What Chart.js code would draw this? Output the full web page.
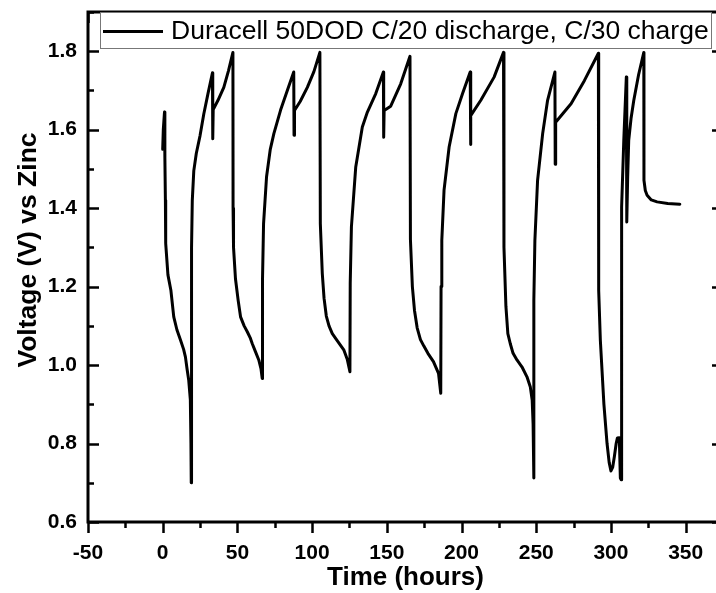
<!DOCTYPE html>
<html>
<head>
<meta charset="utf-8">
<script src="https://cdn.jsdelivr.net/npm/chart.js"></script>
<style>
  html, body { margin: 0; padding: 0; overflow: hidden; background: #fff; }
  #wrap { width: 730px; height: 593px; }
</style>
</head>
<body>
<div id="wrap"><canvas id="cycles"></canvas></div>
<script>
// Duracell 50DOD, C/20 discharge, C/30 charge
var seriesLabel = 'Duracell 50DOD C/20 discharge, C/30 charge';
var xTitle = 'Time (hours)';
var yTitle = 'Voltage (V) vs Zinc';

var timeHours = [
  0.0, 0.4, 1.2, 1.4, 1.5, 1.8, 2.0, 3.5, 5.5, 7.4, 9.5, 11.9, 14.0, 15.2, 16.3, 17.4, 18.5, 18.9, 19.1,
  19.3, 19.8, 20.8, 22.5, 25.0, 27.5, 30.2, 33.3, 33.5, 33.8, 37.0, 40.9, 44.0, 47.0,
  47.1, 47.4, 48.7, 50.5, 52.1, 54.5, 56.6, 58.5, 59.9, 62.0, 64.3, 65.8, 66.6,
  66.8, 67.5, 69.5, 72.0, 74.4, 78.9, 83.4, 87.7, 87.9, 88.2, 92.0, 96.8, 101.2, 105.2,
  105.5, 106.8, 108.0, 109.5, 111.3, 113.5, 116.9, 121.3, 123.5, 125.3,
  125.5, 126.3, 129.2, 133.6, 137.0, 142.6, 147.7, 147.9, 148.2, 152.6, 159.3, 165.5,
  165.8, 167.1, 168.5, 170.3, 172.5, 174.7, 177.5, 181.2, 184.6, 186.1,
  186.3, 186.8, 188.3, 191.7, 196.2, 200.7, 205.8, 206.0, 206.3, 212.9, 221.8, 228.1,
  228.4, 229.7, 231.0, 232.6, 234.5, 237.1, 240.5, 243.8, 246.0, 247.3, 247.9, 248.3,
  248.5, 249.1, 250.9, 254.3, 257.6, 262.5, 262.7, 263.0, 268.0, 273.3, 282.2, 291.6,
  291.8, 292.9, 295.3, 297.4, 298.8, 300.0, 301.2, 302.3, 303.5, 304.3, 305.6, 306.3,
  306.8, 306.9, 307.4, 308.6, 310.3, 310.6, 311.2, 311.9, 313.5, 315.3, 318.5, 322.0,
  322.1, 323.0, 324.2, 327.0, 330.9, 338.0, 346.1
];

var voltageV = [
  1.55, 1.60, 1.645, 1.60, 1.53, 1.42, 1.31, 1.23, 1.19, 1.123, 1.09, 1.064, 1.04, 1.021, 0.99, 0.962, 0.911, 0.80, 0.70,
  1.30, 1.42, 1.495, 1.54, 1.585, 1.64, 1.69, 1.745, 1.577, 1.651, 1.675, 1.708, 1.75, 1.797,
  1.40, 1.30, 1.22, 1.165, 1.123, 1.10, 1.085, 1.07, 1.055, 1.035, 1.013, 0.99, 0.966,
  1.22, 1.36, 1.48, 1.55, 1.59, 1.65, 1.70, 1.747, 1.586, 1.649, 1.672, 1.708, 1.748, 1.797,
  1.36, 1.234, 1.17, 1.125, 1.10, 1.08, 1.062, 1.038, 1.015, 0.983,
  1.208, 1.352, 1.505, 1.607, 1.645, 1.692, 1.747, 1.581, 1.649, 1.660, 1.717, 1.787,
  1.32, 1.20, 1.14, 1.095, 1.065, 1.049, 1.03, 1.009, 0.979, 0.928,
  1.200, 1.318, 1.446, 1.556, 1.641, 1.692, 1.747, 1.562, 1.636, 1.675, 1.734, 1.797,
  1.30, 1.15, 1.08, 1.055, 1.03, 1.013, 0.995, 0.970, 0.945, 0.91, 0.85, 0.712,
  1.166, 1.318, 1.471, 1.590, 1.675, 1.747, 1.512, 1.619, 1.642, 1.666, 1.725, 1.795,
  1.19, 1.064, 0.90, 0.80, 0.752, 0.730, 0.740, 0.767, 0.80, 0.814, 0.815, 0.712,
  0.708, 1.20, 1.403, 1.573, 1.734, 1.365, 1.48, 1.573, 1.63, 1.675, 1.74, 1.797,
  1.471, 1.445, 1.433, 1.421, 1.416, 1.412, 1.410
];

var xTicks = [-50, 0, 50, 100, 150, 200, 250, 300, 350];
var yTicks = [0.6, 0.8, 1.0, 1.2, 1.4, 1.6, 1.8];

var FONT = "'Liberation Sans', Arial, sans-serif";

// box, tick marks, y title and legend, Origin style
var framePlugin = {
  id: 'frame',
  afterDatasetsDraw: function (chart) {
    var c = chart.ctx, a = chart.chartArea;
    var xs = chart.scales.x, ys = chart.scales.y;
    c.save();
    c.strokeStyle = '#000';
    c.lineWidth = 3;
    c.beginPath();
    c.moveTo(a.left, a.top); c.lineTo(a.right, a.top);
    c.moveTo(a.left, a.top - 1.5); c.lineTo(a.left, a.bottom + 1.5);
    c.moveTo(a.left - 1.5, a.bottom); c.lineTo(a.right, a.bottom);
    c.moveTo(a.right, a.top); c.lineTo(a.right, a.bottom);
    c.stroke();
    c.lineWidth = 2.5;
    c.beginPath();
    for (var v = -50; v <= 375; v += 25) {
      var px = Math.round(xs.getPixelForValue(v)) + 0.5;
      var major = v % 50 === 0;
      c.moveTo(px, a.bottom); c.lineTo(px, a.bottom + (major ? 11 : 6));
      c.moveTo(px, a.top); c.lineTo(px, a.top + (major ? 11 : 6));
    }
    for (var k = 0; k <= 13; k++) {
      var yv = 0.6 + k * 0.1;
      var py = Math.round(ys.getPixelForValue(yv)) + 0.5;
      var maj = k % 2 === 0;
      c.moveTo(a.left, py); c.lineTo(a.left + (maj ? 11 : 6), py);
      c.moveTo(a.right, py); c.lineTo(a.right - (maj ? 11 : 6), py);
    }
    c.stroke();
    c.restore();
  },
  afterDraw: function (chart) {
    var c = chart.ctx;
    c.save();
    // y axis title (sits a little above the middle of the axis in the original)
    c.translate(28.6, 250);
    c.rotate(-Math.PI / 2);
    c.fillStyle = '#000';
    c.font = 'bold 26.5px ' + FONT;
    c.textAlign = 'center';
    c.textBaseline = 'middle';
    c.fillText(yTitle, 0, 0);
    c.restore();

    c.save();
    c.fillStyle = '#fff';
    c.fillRect(100, 12, 612, 37);
    c.strokeStyle = '#777';
    c.lineWidth = 1;
    c.strokeRect(100.5, 12.5, 611, 36);
    c.strokeStyle = '#000';
    c.lineWidth = 3;
    c.beginPath();
    c.moveTo(103, 31.5); c.lineTo(163, 31.5);
    c.stroke();
    c.fillStyle = '#000';
    c.font = '26.5px ' + FONT;
    c.textBaseline = 'alphabetic';
    c.textAlign = 'left';
    c.fillText(seriesLabel, 171, 38.5);
    c.restore();
  }
};

var points = timeHours.map(function (t, i) { return { x: t, y: voltageV[i] }; });

var ctx = document.getElementById('cycles').getContext('2d');
new Chart(ctx, {
  type: 'scatter',
  data: {
    datasets: [
      {
        label: seriesLabel,
        data: points,
        showLine: true,
        borderColor: '#000',
        backgroundColor: '#000',
        borderWidth: 3,
        pointRadius: 0,
        tension: 0,
        borderJoinStyle: 'round',
        borderCapStyle: 'round'
      }
    ]
  },
  options: {
    responsive: true,
    maintainAspectRatio: false,
    animation: false,
    layout: { padding: { top: 12, right: 7, left: 0, bottom: 0 } },
    plugins: { legend: { display: false }, tooltip: { enabled: false } },
    scales: {
      x: {
        type: 'linear',
        min: -50,
        max: 375,
        afterBuildTicks: function (s) { s.ticks = xTicks.map(function (v) { return { value: v }; }); },
        afterFit: function (s) { s.height = 71; s.paddingLeft = 0; s.paddingRight = 0; },
        grid: { display: false, drawTicks: false },
        border: { display: false },
        ticks: {
          color: '#000',
          padding: 19,
          maxRotation: 0,
          font: { family: FONT, size: 21, weight: 'bold' },
          callback: function (v) { return String(v); }
        },
        title: {
          display: true,
          text: xTitle,
          color: '#000',
          padding: { top: 0, bottom: 0 },
          font: { family: FONT, size: 26, weight: 'bold' }
        }
      },
      y: {
        type: 'linear',
        min: 0.6,
        max: 1.9,
        afterBuildTicks: function (s) { s.ticks = yTicks.map(function (v) { return { value: v }; }); },
        afterFit: function (s) { s.width = 88; s.paddingTop = 0; s.paddingBottom = 0; },
        grid: { display: false, drawTicks: false },
        border: { display: false },
        ticks: {
          color: '#000',
          padding: 11,
          font: { family: FONT, size: 21, weight: 'bold' },
          callback: function (v) { return Number(v).toFixed(1); }
        },
        title: { display: false }
      }
    }
  },
  plugins: [framePlugin]
});
</script>
</body>
</html>
